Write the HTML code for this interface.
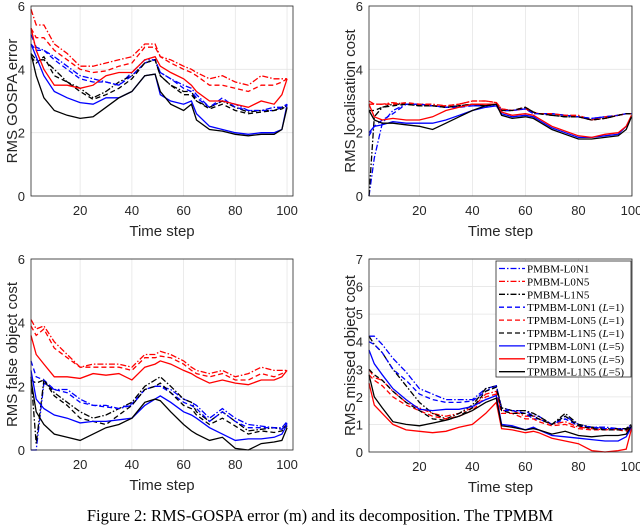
<!DOCTYPE html>
<html><head><meta charset="utf-8">
<style>
body{margin:0;background:#fff;width:640px;height:522px;overflow:hidden;}
svg{display:block;font-family:"Liberation Sans",sans-serif;}
.cap{position:absolute;left:0;top:506px;width:640px;text-align:center;font-family:"Liberation Serif",serif;font-size:16.5px;color:#000;white-space:nowrap;}
</style></head><body>
<svg id="chart" width="640" height="522" viewBox="0 0 640 522"></svg>
<div class="cap">Figure 2: RMS-GOSPA error (m) and its decomposition. The TPMBM</div>
<script>
const tSteps=[1,3,6,10,15,20,25,30,35,40,45,49,51,55,60,63,65,70,75,80,85,90,95,98,100];
const seriesNames=["PMBM-L0N1","PMBM-L0N5","PMBM-L1N5","TPMBM-L0N1 (L=1)","TPMBM-L0N5 (L=1)","TPMBM-L1N5 (L=1)","TPMBM-L0N1 (L=5)","TPMBM-L0N5 (L=5)","TPMBM-L1N5 (L=5)"];
const yTicksA=[0,2,4,6];
const yTicksB=[0,1,2,3,4,5,6,7];
const xTicks=[20,40,60,80,100];
// GOSPA
const gospaBlueDD=[5.1,4.7,4.6,4.4,4.1,3.8,3.7,3.6,3.5,3.9,4.3,4.3,3.9,3.7,3.5,3.4,3.2,2.8,3.0,2.9,2.7,2.7,2.8,2.8,2.9];
const gospaRedDD=[5.9,5.4,5.4,4.8,4.5,4.1,4.1,4.2,4.3,4.4,4.8,4.8,4.4,4.3,4.1,4.0,3.9,3.7,3.8,3.6,3.5,3.8,3.7,3.7,3.7];
const gospaBlackDD=[4.5,4.3,4.3,4.0,3.6,3.4,3.1,3.3,3.6,3.8,4.2,4.3,3.8,3.5,3.3,3.3,3.0,2.8,3.0,2.8,2.65,2.7,2.7,2.8,2.85];
const gospaBlueD=[4.8,4.6,4.6,4.3,4.0,3.7,3.6,3.6,3.5,3.8,4.2,4.3,3.9,3.7,3.4,3.3,3.1,2.8,3.1,2.8,2.7,2.7,2.7,2.8,2.9];
const gospaRedD=[5.3,5.0,5.0,4.6,4.3,4.0,3.9,3.95,4.1,4.2,4.7,4.7,4.4,4.2,4.0,3.9,3.8,3.5,3.5,3.4,3.3,3.5,3.5,3.6,3.7];
const gospaBlackD=[4.4,4.2,4.4,3.8,3.6,3.3,3.05,3.2,3.4,3.7,4.2,4.3,3.8,3.5,3.2,3.2,3.0,2.75,2.9,2.7,2.6,2.65,2.7,2.75,2.85];
const gospaBlueS=[4.8,4.4,3.8,3.3,3.1,2.95,2.9,3.1,3.1,3.3,3.8,3.85,3.2,3.0,2.9,3.0,2.6,2.2,2.1,2.0,1.95,2.0,2.0,2.1,2.9];
const gospaRedS=[5.3,4.6,4.0,3.5,3.5,3.4,3.5,3.8,3.9,3.9,4.3,4.4,4.1,3.9,3.7,3.5,3.3,3.0,3.0,2.9,2.8,3.0,2.9,3.2,3.7];
const gospaBlackS=[4.5,3.8,3.1,2.7,2.55,2.45,2.5,2.8,3.1,3.3,3.8,3.85,3.3,2.9,2.7,2.9,2.4,2.1,2.05,1.95,1.9,1.95,1.95,2.1,2.8];
// Localisation
const locBlueDD=[0,1.2,2.3,2.7,2.9,2.9,2.85,2.8,2.85,2.85,2.85,2.9,2.7,2.7,2.75,2.6,2.6,2.6,2.55,2.5,2.45,2.5,2.55,2.6,2.6];
const locRedDD=[3.0,2.9,2.9,2.95,2.9,2.9,2.9,2.85,2.9,3.0,3.0,2.95,2.75,2.7,2.75,2.65,2.6,2.6,2.55,2.55,2.4,2.5,2.55,2.6,2.6];
const locBlackDD=[0,2.5,2.8,2.9,2.9,2.85,2.85,2.8,2.85,2.9,2.85,2.9,2.7,2.7,2.8,2.65,2.6,2.55,2.5,2.5,2.4,2.45,2.55,2.6,2.6];
const locBlueD=[1.9,2.2,2.4,2.6,2.9,2.9,2.85,2.8,2.8,2.85,2.85,2.9,2.7,2.7,2.75,2.6,2.6,2.6,2.55,2.5,2.45,2.5,2.55,2.6,2.6];
const locRedD=[2.9,2.9,2.9,2.9,2.95,2.9,2.85,2.85,2.9,3.0,3.0,2.95,2.75,2.7,2.8,2.65,2.6,2.6,2.55,2.5,2.4,2.45,2.55,2.6,2.6];
const locBlackD=[2.7,2.7,2.8,2.85,2.9,2.85,2.85,2.8,2.85,2.9,2.85,2.9,2.7,2.7,2.8,2.65,2.6,2.55,2.5,2.5,2.4,2.45,2.55,2.6,2.6];
const locBlueS=[2.0,2.2,2.25,2.35,2.3,2.3,2.3,2.4,2.55,2.7,2.8,2.85,2.6,2.5,2.55,2.5,2.4,2.15,2.0,1.85,1.85,1.9,1.95,2.2,2.5];
const locRedS=[2.9,2.5,2.4,2.45,2.4,2.4,2.5,2.7,2.8,2.9,2.9,2.9,2.65,2.55,2.6,2.55,2.45,2.2,2.05,1.9,1.85,1.95,2.0,2.2,2.55];
const locBlackS=[2.7,2.4,2.3,2.3,2.25,2.2,2.1,2.3,2.5,2.7,2.85,2.9,2.55,2.45,2.5,2.45,2.35,2.1,1.95,1.8,1.8,1.85,1.9,2.1,2.5];
// False
const falseBlueDD=[0,0,2.1,1.9,1.9,1.6,1.4,1.4,1.3,1.4,1.9,2.0,2.0,1.9,1.6,1.5,1.4,1.0,1.3,1.0,0.8,0.75,0.7,0.7,0.9];
const falseRedDD=[4.1,3.8,3.9,3.4,3.0,2.6,2.7,2.7,2.7,2.6,3.0,3.0,3.1,3.0,2.8,2.6,2.5,2.4,2.5,2.3,2.4,2.6,2.5,2.5,2.5];
const falseBlackDD=[2.3,0.2,2.2,1.8,1.5,1.2,1.0,1.1,1.3,1.5,2.0,2.2,2.3,2.0,1.6,1.5,1.2,0.9,1.2,0.9,0.6,0.65,0.7,0.65,0.8];
const falseBlueD=[2.8,2.3,2.2,1.9,1.8,1.5,1.4,1.35,1.3,1.45,1.9,2.0,2.0,1.8,1.5,1.4,1.3,0.9,1.2,0.9,0.7,0.7,0.7,0.65,0.85];
const falseRedD=[3.9,3.6,3.8,3.2,2.9,2.6,2.6,2.6,2.6,2.5,2.9,2.9,2.95,2.9,2.7,2.5,2.4,2.3,2.4,2.2,2.2,2.4,2.3,2.4,2.5];
const falseBlackD=[2.2,2.1,2.2,1.7,1.4,1.0,0.9,0.8,1.1,1.4,1.9,2.0,2.1,1.8,1.4,1.3,1.1,0.8,1.0,0.75,0.5,0.6,0.55,0.6,0.75];
const falseBlueS=[2.5,1.6,1.3,1.1,1.0,0.85,0.9,0.9,0.95,1.0,1.4,1.6,1.7,1.5,1.2,1.1,1.0,0.7,0.5,0.3,0.35,0.35,0.4,0.5,0.8];
const falseRedS=[3.6,3.0,2.7,2.3,2.3,2.25,2.4,2.35,2.4,2.2,2.6,2.7,2.8,2.7,2.5,2.4,2.3,2.1,2.2,2.1,2.05,2.2,2.2,2.3,2.5];
const falseBlackS=[2.2,1.2,0.8,0.5,0.4,0.3,0.5,0.7,0.8,1.0,1.5,1.6,1.55,1.2,0.8,0.6,0.5,0.3,0.4,0.05,0.0,0.2,0.25,0.3,0.7];
// Missed
const missBlueDD=[4.2,4.2,3.9,3.4,2.9,2.3,2.1,1.9,1.9,1.9,2.3,2.4,1.6,1.5,1.5,1.3,1.3,1.0,1.3,1.0,0.9,0.9,0.85,0.85,1.0];
const missRedDD=[3.0,2.7,2.6,2.2,1.8,1.6,1.4,1.3,1.4,1.6,2.1,2.2,1.5,1.5,1.3,1.3,1.2,1.0,1.1,0.9,0.85,0.8,0.85,0.8,0.95];
const missBlackDD=[4.2,3.9,3.6,3.0,2.4,1.8,1.4,1.2,1.4,1.7,2.3,2.4,1.6,1.5,1.5,1.4,1.3,1.0,1.4,1.0,0.9,0.85,0.85,0.85,1.0];
const missBlueD=[4.0,3.9,3.6,3.0,2.6,2.1,1.9,1.8,1.8,1.85,2.2,2.4,1.5,1.5,1.4,1.2,1.2,1.0,1.2,0.95,0.9,0.85,0.85,0.8,0.95];
const missRedD=[2.8,2.6,2.4,2.0,1.7,1.5,1.3,1.2,1.3,1.5,2.0,2.1,1.4,1.4,1.2,1.2,1.1,0.95,1.0,0.85,0.8,0.8,0.8,0.75,0.9];
const missBlackD=[3.0,2.8,2.6,2.2,1.8,1.5,1.2,1.15,1.3,1.6,2.2,2.35,1.5,1.4,1.4,1.3,1.2,1.0,1.3,0.95,0.85,0.8,0.8,0.8,0.95];
const missBlueS=[3.7,3.2,2.8,2.3,1.9,1.55,1.5,1.55,1.55,1.65,1.9,2.05,1.0,0.95,0.8,0.9,0.8,0.6,0.55,0.5,0.45,0.4,0.4,0.55,0.9];
const missRedS=[2.5,1.7,1.4,1.0,0.8,0.75,0.7,0.75,0.9,1.0,1.4,1.8,0.85,0.8,0.7,0.75,0.7,0.5,0.4,0.3,0.05,0.0,0.05,0.1,0.85];
const missBlackS=[2.8,2.0,1.6,1.1,1.0,0.95,1.05,1.15,1.3,1.5,1.8,1.95,0.95,0.9,0.8,0.85,0.8,0.65,0.75,0.6,0.55,0.6,0.6,0.65,0.95];

const NS="http://www.w3.org/2000/svg";
const svg=document.getElementById('chart');
const styles=[["#0000ff","6 2 1.5 2"],["#ff0000","6 2 1.5 2"],["#000000","6 2 1.5 2"],["#0000ff","5 3"],["#ff0000","5 3"],["#000000","5 3"],["#0000ff",""],["#ff0000",""],["#000000",""]];
function mk(tag,attrs,parent){const e=document.createElementNS(NS,tag);for(const k in attrs)e.setAttribute(k,attrs[k]);(parent||svg).appendChild(e);return e;}
const panels=[
 {key:"gospa",title:"RMS GOSPA error",x0:31,x1:293,y0:6,y1:196,xmax:102.3,ymax:6,yt:yTicksA,lx:12,data:[gospaBlueDD,gospaRedDD,gospaBlackDD,gospaBlueD,gospaRedD,gospaBlackD,gospaBlueS,gospaRedS,gospaBlackS]},
 {key:"localisation",title:"RMS localisation cost",x0:369,x1:632,y0:6,y1:196,xmax:100.2,ymax:6,yt:yTicksA,lx:350,data:[locBlueDD,locRedDD,locBlackDD,locBlueD,locRedD,locBlackD,locBlueS,locRedS,locBlackS]},
 {key:"false",title:"RMS false object cost",x0:31,x1:293,y0:259,y1:450,xmax:102.3,ymax:6,yt:yTicksA,lx:12,data:[falseBlueDD,falseRedDD,falseBlackDD,falseBlueD,falseRedD,falseBlackD,falseBlueS,falseRedS,falseBlackS]},
 {key:"missed",title:"RMS missed object cost",x0:369,x1:632,y0:259,y1:452,xmax:100.2,ymax:7,yt:yTicksB,lx:350,data:[missBlueDD,missRedDD,missBlackDD,missBlueD,missRedD,missBlackD,missBlueS,missRedS,missBlackS]}
];
panels.forEach(p=>{
 const g=mk('g',{});
 
 
 const sx=v=>p.x0+(v-1)/(p.xmax-1)*(p.x1-p.x0);
 const sy=v=>p.y1-v/p.ymax*(p.y1-p.y0);
 xTicks.forEach(t=>{
  const x=sx(t);
  const l=mk('line',{x1:x,x2:x,y1:p.y0,y2:p.y1,stroke:'#e6e6e6','stroke-width':0.8},g);
  
  
  const tx=mk('text',{x:x,y:p.y1+19,'text-anchor':'middle','font-size':13,fill:'#262626'},g);
  
  
  tx.textContent=t;
 });
 p.yt.forEach(t=>{
  const y=sy(t);
  const l=mk('line',{x1:p.x0,x2:p.x1,y1:y,y2:y,stroke:'#e6e6e6','stroke-width':0.8},g);
  
  
  const tx=mk('text',{x:p.x0-6,y:y+5,'text-anchor':'end','font-size':13,fill:'#262626'},g);
  
  
  tx.textContent=t;
 });
 p.data.forEach((arr,i)=>{
  const d=arr.map((v,j)=>(j?'L':'M')+sx(tSteps[j]).toFixed(1)+','+sy(v).toFixed(1)).join(' ');
  const path=mk('path',{d:d,fill:'none',stroke:styles[i][0],'stroke-width':1.3,'stroke-dasharray':styles[i][1]},g);
  
  
 });
 const box=mk('rect',{x:p.x0,y:p.y0,width:p.x1-p.x0,height:p.y1-p.y0,fill:'none',stroke:'#262626','stroke-width':0.8},g);
 
 
 const xl=mk('text',{x:(p.x0+p.x1)/2,y:p.y1+40,'text-anchor':'middle','font-size':15,fill:'#262626'},g);
 
 
 xl.textContent='Time step';
 const cy=(p.y0+p.y1)/2;
 const yl=mk('text',{x:p.lx,y:cy,'text-anchor':'middle','font-size':15,fill:'#262626',transform:`rotate(-90 ${p.lx} ${cy})`,dy:5},g);
 
 
 yl.textContent=p.title;
});
// legend
const lg=mk('g',{});


const lr=mk('rect',{x:496,y:261,width:135,height:116,fill:'#fff',stroke:'#262626','stroke-width':0.8},lg);


seriesNames.forEach((n,i)=>{
 const y=268.5+i*12.9;
 const l=mk('line',{x1:499,x2:525,y1:y,y2:y,stroke:styles[i][0],'stroke-width':1.3,'stroke-dasharray':styles[i][1]},lg);
 
 
 const t=mk('text',{x:527,y:y+4,'font-size':11,fill:'#000','font-family':'Liberation Serif, serif'},lg);
 
 
 const m=n.match(/^(.*) \(L=(\d)\)$/);
 if(m){
  t.appendChild(document.createTextNode(m[1]+' ('));
  const it=mk('tspan',{'font-style':'italic'},t);it.textContent='L';
  t.appendChild(document.createTextNode('='+m[2]+')'));
 } else t.textContent=n;
});
</script>
</body></html>
